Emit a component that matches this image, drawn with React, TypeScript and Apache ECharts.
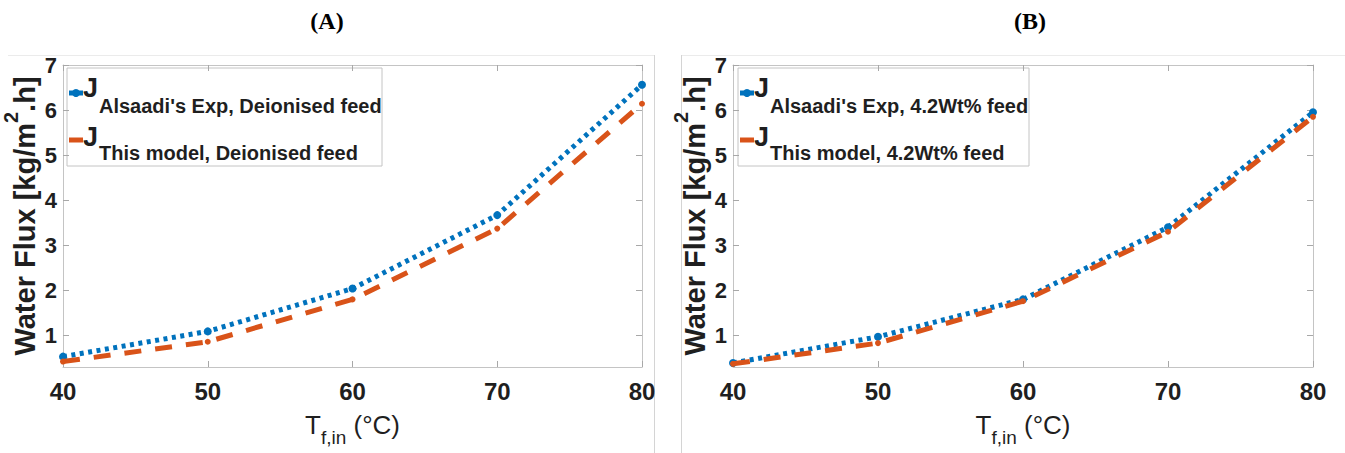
import React, { useEffect, useRef } from "react";
import * as echarts from "echarts";

// Feed inlet temperature (°C)
const temperatures = [40, 50, 60, 70, 80];

// Water flux, kg/m².h — deionised feed
const expDeionised = [0.53, 1.09, 2.04, 3.67, 6.56];
const modelDeionised = [0.42, 0.86, 1.8, 3.37, 6.14];

// Water flux, kg/m².h — 4.2 wt% feed
const exp42 = [0.39, 0.97, 1.8, 3.4, 5.95];
const model42 = [0.37, 0.83, 1.76, 3.3, 5.85];

const yTicks = [1, 2, 3, 4, 5, 6, 7];
const panelTitles = ["(A)", "(B)"];
const legendExp = ["Alsaadi's Exp, Deionised feed", "Alsaadi's Exp, 4.2Wt% feed"];
const legendModel = ["This model, Deionised feed", "This model, 4.2Wt% feed"];

const BLUE = "#0072BD";
const ORANGE = "#D95319";
const FRAME = "#c4c4c4";
const TICK = "#a8a8a8";
const INK = "#1f1f1f";
const SANS = '"Liberation Sans", Arial, sans-serif';
const SERIF = '"Liberation Serif", "Times New Roman", serif';

const GRID_TOP = 65;
const GRID_H = 302;
const GRID_W = 580;
const gridLefts = [62, 733];

const pairs = (ys: number[]) => temperatures.map((t, i) => [t, ys[i]]);

function xAxesFor(gi: number) {
  const base = {
    type: "value" as const,
    gridIndex: gi,
    min: 40,
    max: 80,
    interval: 10,
    splitLine: { show: false },
    axisLine: { show: true, lineStyle: { color: FRAME, width: 1 } },
    axisTick: { show: true, inside: true, length: 6, lineStyle: { color: TICK } },
  };
  return [
    {
      ...base,
      position: "bottom",
      axisLabel: {
        color: INK,
        fontFamily: SANS,
        fontWeight: "bold",
        fontSize: 24,
        margin: 12,
      },
      name: "{t|T}{s|f,in}{t| (°C)}",
      nameLocation: "middle",
      nameGap: 45,
      nameTextStyle: {
        rich: {
          t: { fontFamily: SANS, fontSize: 26, color: INK, verticalAlign: "top" },
          s: { fontFamily: SANS, fontSize: 19, color: INK, verticalAlign: "bottom", lineHeight: 35 },
        },
      },
    },
    { ...base, position: "top", axisLabel: { show: false } },
  ];
}

function yAxesFor(gi: number) {
  const base = {
    type: "value" as const,
    gridIndex: gi,
    min: 0.3,
    max: 7,
    splitLine: { show: false },
    axisLine: { show: true, lineStyle: { color: FRAME, width: 1 } },
    axisTick: { show: true, inside: true, length: 6, customValues: yTicks, lineStyle: { color: TICK } },
  };
  return [
    {
      ...base,
      position: "left",
      axisLabel: {
        customValues: yTicks,
        color: INK,
        fontFamily: SANS,
        fontWeight: "bold",
        fontSize: 22,
        margin: 6,
      },
      name: "{w|Water Flux [kg/m}{p|2}{w|.h]}",
      nameLocation: "middle",
      nameRotate: 90,
      nameGap: 24,
      nameTextStyle: {
        rich: {
          w: { fontFamily: SANS, fontSize: 29, fontWeight: "bold", color: INK, verticalAlign: "bottom", lineHeight: 38 },
          p: { fontFamily: SANS, fontSize: 20, fontWeight: "bold", color: INK, verticalAlign: "top" },
        },
      },
    },
    { ...base, position: "right", axisLabel: { show: false } },
  ];
}

function seriesFor(gi: number, expVals: number[], modelVals: number[]) {
  return [
    {
      type: "line",
      xAxisIndex: gi * 2,
      yAxisIndex: gi * 2,
      data: pairs(expVals),
      symbol: "circle",
      symbolSize: 8,
      itemStyle: { color: BLUE },
      lineStyle: { color: BLUE, width: 5, type: [4, 4.5], cap: "butt" },
      z: 3,
    },
    {
      type: "line",
      xAxisIndex: gi * 2,
      yAxisIndex: gi * 2,
      data: pairs(modelVals),
      symbol: "circle",
      symbolSize: 6,
      itemStyle: { color: ORANGE },
      lineStyle: { color: ORANGE, width: 5, type: [17, 14], cap: "butt" },
      z: 4,
    },
  ];
}

function legendFor(gi: number, width: number) {
  const L = gridLefts[gi] + 5;
  const entries = [
    { color: BLUE, marker: true, label: legendExp[gi], iconY: 93, jY: 88, sY: 106 },
    { color: ORANGE, marker: false, label: legendModel[gi], iconY: 140, jY: 137, sY: 153 },
  ];
  const children: any[] = [
    {
      type: "rect",
      shape: { x: L, y: 68, width, height: 98 },
      style: { fill: "#ffffff", stroke: FRAME, lineWidth: 1 },
    },
  ];
  entries.forEach((e) => {
    children.push({
      type: "line",
      shape: { x1: L + 2, y1: e.iconY, x2: L + 16, y2: e.iconY },
      style: { stroke: e.color, lineWidth: 5 },
    });
    if (e.marker) {
      children.push({
        type: "circle",
        shape: { cx: L + 9, cy: e.iconY, r: 4 },
        style: { fill: e.color },
      });
    }
    children.push({
      type: "text",
      x: L + 16,
      y: e.jY,
      style: { text: "J", fill: INK, font: `bold 27px ${SANS}`, align: "left", verticalAlign: "middle" },
    });
    children.push({
      type: "text",
      x: L + 32,
      y: e.sY,
      style: { text: e.label, fill: INK, font: `bold 20px ${SANS}`, align: "left", verticalAlign: "middle" },
    });
  });
  return { type: "group", children };
}

function panelFrames() {
  const stroke = "#d4d4d4";
  return [
    { type: "line", shape: { x1: 8, y1: 55.5, x2: 654, y2: 55.5 }, style: { stroke: "#ebebeb", lineWidth: 1 } },
    { type: "line", shape: { x1: 654.5, y1: 55, x2: 654.5, y2: 453 }, style: { stroke, lineWidth: 1 } },
    { type: "line", shape: { x1: 681, y1: 55.5, x2: 1345, y2: 55.5 }, style: { stroke: "#ebebeb", lineWidth: 1 } },
    { type: "line", shape: { x1: 681.5, y1: 55, x2: 681.5, y2: 453 }, style: { stroke, lineWidth: 1 } },
  ];
}

export default function App() {
  const ref = useRef<HTMLDivElement>(null);

  useEffect(() => {
    if (!ref.current) return;
    const chart = echarts.init(ref.current, undefined, { renderer: "svg" });
    chart.setOption({
      animation: false,
      backgroundColor: "#ffffff",
      grid: gridLefts.map((left) => ({ left, top: GRID_TOP, width: GRID_W, height: GRID_H })),
      xAxis: [...xAxesFor(0), ...xAxesFor(1)],
      yAxis: [...yAxesFor(0), ...yAxesFor(1)],
      series: [...seriesFor(0, expDeionised, modelDeionised), ...seriesFor(1, exp42, model42)],
      graphic: [
        ...panelFrames(),
        {
          type: "text",
          x: 327,
          y: 21,
          style: { text: panelTitles[0], fill: "#000", font: `bold 24px ${SERIF}`, align: "center", verticalAlign: "middle" },
        },
        {
          type: "text",
          x: 1030,
          y: 21,
          style: { text: panelTitles[1], fill: "#000", font: `bold 24px ${SERIF}`, align: "center", verticalAlign: "middle" },
        },
        legendFor(0, 315),
        legendFor(1, 291),
      ],
    });
    return () => chart.dispose();
  }, []);

  return (
    <div
      ref={ref}
      style={{ position: "fixed", left: 0, top: 0, width: 1345, height: 453, background: "#fff" }}
    />
  );
}
